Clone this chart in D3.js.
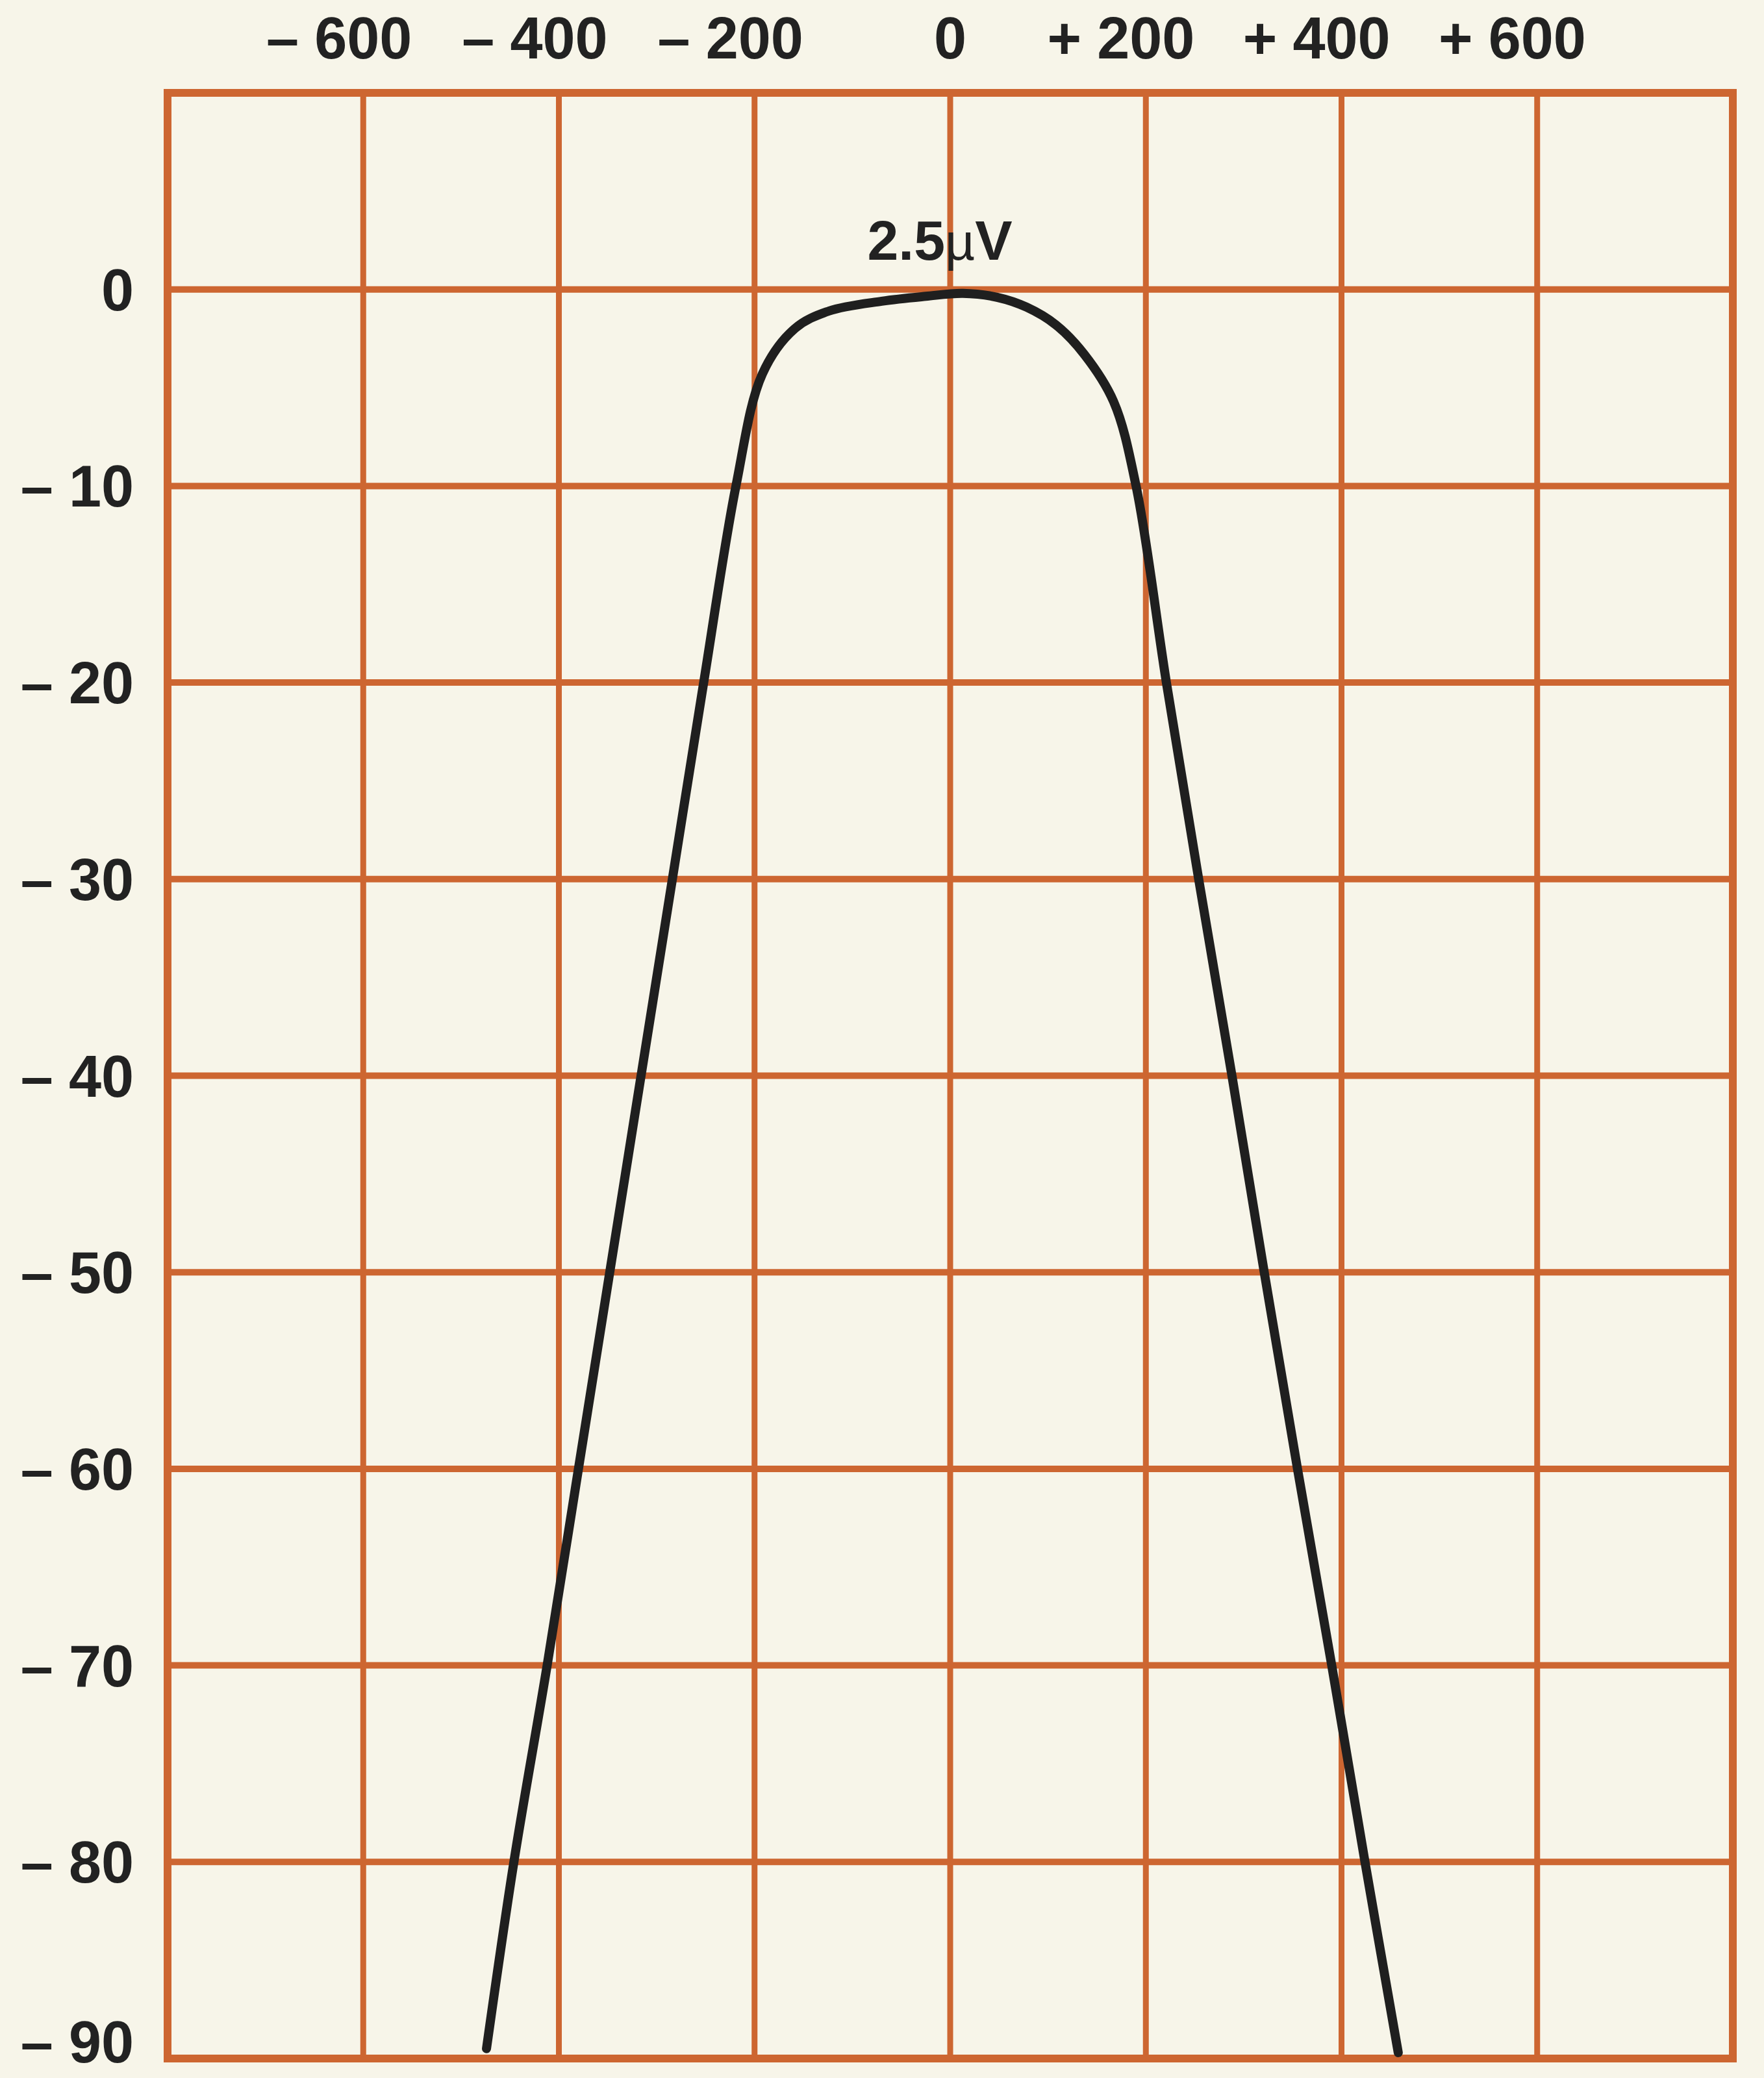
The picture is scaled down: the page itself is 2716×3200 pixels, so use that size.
<!DOCTYPE html>
<html>
<head>
<meta charset="utf-8">
<script src="https://cdn.jsdelivr.net/npm/d3@7"></script>
<style>
  body { margin: 0; background: #f7f5e9; }
  svg { display: block; }
  text { font-family: "Liberation Sans", Arial, sans-serif; font-weight: bold; fill: #222; }
</style>
</head>
<body>
<svg id="chart"></svg>
<script>
// frequency offset (Hz) and response (dB)
const offsetHz = [-474, -446, -412, -380, -348, -316, -284, -252, -219, -192, -159, -124, -70, -25, 13, 48, 78, 108, 137, 167, 190, 221, 254, 288, 321, 355, 390, 424, 458]
const levelDb = [-89.5, -80, -70, -60, -50, -40, -30, -20, -10, -4.3, -2.0, -1.1, -0.6, -0.35, -0.2, -0.4, -0.9, -1.8, -3.3, -5.7, -10, -20, -30, -40, -50, -60, -70, -80, -89.7]

const xGrid = [-800, -600, -400, -200, 0, 200, 400, 600, 800]
const yGrid = [10, 0, -10, -20, -30, -40, -50, -60, -70, -80, -90]
const xTicks = [-600, -400, -200, 0, 200, 400, 600]
const yTicks = [0, -10, -20, -30, -40, -50, -60, -70, -80, -90]
const peakLabel = '2.5'

const width = 2716
const height = 3200
const margin = { top: 143, right: 48, bottom: 30, left: 258 }
const gridColor = '#cd6631'

const x = d3.scaleLinear().domain([-800, 800]).range([margin.left, width - margin.right])
const y = d3.scaleLinear().domain([10, -90]).range([margin.top, height - margin.bottom])

const svg = d3.select('#chart')
  .attr('width', width)
  .attr('height', height)

svg.append('rect')
  .attr('width', width)
  .attr('height', height)
  .attr('fill', '#f7f5e9')

// grid
svg.append('g')
  .selectAll('line')
  .data(xGrid)
  .join('line')
  .attr('x1', d => x(d))
  .attr('x2', d => x(d))
  .attr('y1', y(10))
  .attr('y2', y(-90))
  .attr('stroke', gridColor)
  .attr('stroke-width', 9)

svg.append('g')
  .selectAll('line')
  .data(yGrid)
  .join('line')
  .attr('x1', x(-800))
  .attr('x2', x(800))
  .attr('y1', d => y(d))
  .attr('y2', d => y(d))
  .attr('stroke', gridColor)
  .attr('stroke-width', 10)

svg.append('rect')
  .attr('x', x(-800))
  .attr('y', y(10))
  .attr('width', x(800) - x(-800))
  .attr('height', y(-90) - y(10))
  .attr('fill', 'none')
  .attr('stroke', gridColor)
  .attr('stroke-width', 12)

const signOf = v => v > 0 ? '+' : v < 0 ? '\u2013' : ''

// top labels: digits centred on the grid line, sign hanging to the left
const xLabel = svg.append('g')
  .selectAll('g')
  .data(xTicks)
  .join('g')
  .attr('transform', d => `translate(${x(d)},90)`)

xLabel.append('text')
  .attr('text-anchor', 'middle')
  .attr('font-size', 90)
  .text(d => Math.abs(d))
  .each(function (d) {
    const w = this.getComputedTextLength()
    d3.select(this.parentNode).append('text')
      .attr('text-anchor', 'end')
      .attr('font-size', 90)
      .attr('x', -w / 2 - 24)
      .text(signOf(d))
  })

// left labels (the last one would fall off the page, keep it just inside)
const yLabel = svg.append('g')
  .selectAll('g')
  .data(yTicks)
  .join('g')
  .attr('transform', d => `translate(206,${Math.min(y(d) + 32, height - 24)})`)

yLabel.append('text')
  .attr('text-anchor', 'end')
  .attr('font-size', 90)
  .text(d => Math.abs(d))
  .each(function (d) {
    const w = this.getComputedTextLength()
    d3.select(this.parentNode).append('text')
      .attr('text-anchor', 'end')
      .attr('font-size', 90)
      .attr('x', -w - 24)
      .text(signOf(d))
  })

// response curve
const points = offsetHz.map((f, i) => [f, levelDb[i]])
const line = d3.line()
  .x(d => x(d[0]))
  .y(d => y(d[1]))
  .curve(d3.curveCatmullRom.alpha(0.5))

svg.append('path')
  .datum(points)
  .attr('d', line)
  .attr('fill', 'none')
  .attr('stroke', '#1f1f1f')
  .attr('stroke-width', 14)
  .attr('stroke-linecap', 'round')
  .attr('stroke-linejoin', 'round')

const peak = svg.append('text')
  .attr('x', x(0) - 16)
  .attr('y', 400)
  .attr('text-anchor', 'middle')
  .attr('font-size', 86)
peak.append('tspan').text(peakLabel)
peak.append('tspan').attr('font-weight', 'normal').attr('font-size', 80).text('\u00b5')
peak.append('tspan').text('V')
</script>
</body>
</html>
